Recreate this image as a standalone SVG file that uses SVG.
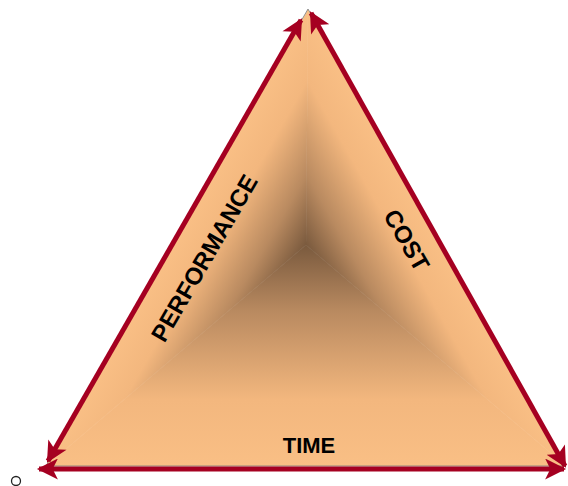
<svg xmlns="http://www.w3.org/2000/svg" width="568" height="486" viewBox="0 0 568 486">
<style>
.lbl{font-family:"Liberation Sans",Arial,sans-serif;font-weight:bold;fill:#000;text-anchor:middle}
.arr{stroke:#A50021;stroke-width:5;fill:none;marker-start:url(#ah);marker-end:url(#ah)}
</style>
<defs>
<marker id="ah" viewBox="0 0 10 10" refX="9" refY="5" markerWidth="4.4" markerHeight="4.2" orient="auto-start-reverse" markerUnits="strokeWidth">
<path d="M0,0 L10,5 L0,10 L2.5,5 Z" fill="#A50021"/>
</marker>
<linearGradient id="gb" gradientUnits="userSpaceOnUse" x1="306" y1="466" x2="306" y2="245">
<stop offset="0" stop-color="#F9BF85"/><stop offset="0.3" stop-color="#F3B77E"/><stop offset="0.7" stop-color="#B98A60"/><stop offset="1" stop-color="#7A5A3E"/>
</linearGradient>
<linearGradient id="gl" gradientUnits="userSpaceOnUse" x1="206" y1="187.6" x2="306" y2="245">
<stop offset="0" stop-color="#F9BF85"/><stop offset="0.3" stop-color="#F3B77E"/><stop offset="0.7" stop-color="#B98A60"/><stop offset="1" stop-color="#7A5A3E"/>
</linearGradient>
<linearGradient id="gr" gradientUnits="userSpaceOnUse" x1="408.2" y1="187.2" x2="306" y2="245">
<stop offset="0" stop-color="#F9BF85"/><stop offset="0.3" stop-color="#F3B77E"/><stop offset="0.7" stop-color="#B98A60"/><stop offset="1" stop-color="#7A5A3E"/>
</linearGradient>
</defs>
<g id="triangle">
<path d="M306,245 L46,466 L566,466 Z" fill="url(#gb)" stroke="url(#gb)" stroke-width="0.6"/>
<path d="M306,245 L308,10 L46,466 Z" fill="url(#gl)" stroke="url(#gl)" stroke-width="0.6"/>
<path d="M306,245 L308,10 L566,466 Z" fill="url(#gr)" stroke="url(#gr)" stroke-width="0.6"/>
<path d="M308,9 L46,466 L566,466 Z" fill="none" stroke="#777" stroke-width="0.8"/>
</g>
<g id="connectors">
<line class="arr" x1="48" y1="461" x2="301" y2="20"/>
<line class="arr" x1="311" y1="13" x2="565" y2="466"/>
<line class="arr" x1="39" y1="469" x2="564" y2="469"/>
</g>
<g id="label-performance"><text class="lbl" font-size="24" transform="translate(204,258) rotate(-60)" dy="0.36em">PERFORMANCE</text></g>
<g id="label-cost"><text class="lbl" font-size="24" transform="translate(407,240) rotate(60)" dy="0.36em">COST</text></g>
<g id="label-time"><text class="lbl" font-size="22" x="309" y="453">TIME</text></g>
<circle cx="16" cy="481" r="4.5" fill="none" stroke="#222" stroke-width="1.3"/>
</svg>
